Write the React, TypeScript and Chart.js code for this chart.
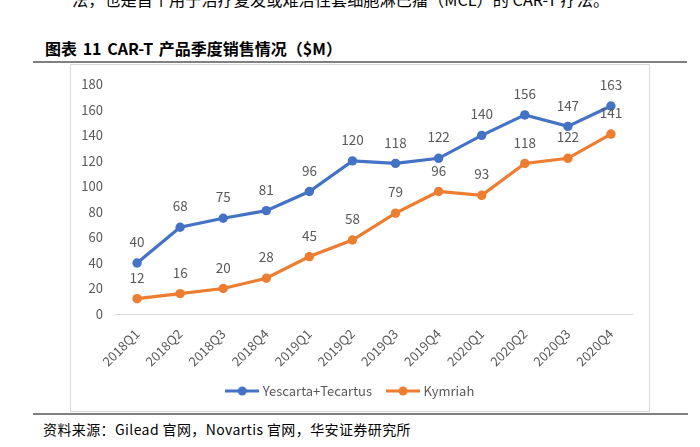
import React, { useEffect, useRef } from "react";
import { Chart, registerables } from "chart.js";

Chart.register(...registerables);

const categories = [
  "2018Q1", "2018Q2", "2018Q3", "2018Q4",
  "2019Q1", "2019Q2", "2019Q3", "2019Q4",
  "2020Q1", "2020Q2", "2020Q3", "2020Q4",
];
const yescartaTecartus = [40, 68, 75, 81, 96, 120, 118, 122, 140, 156, 147, 163];
const kymriah = [12, 16, 20, 28, 45, 58, 79, 96, 93, 118, 122, 141];
const seriesNames = ["Yescarta+Tecartus", "Kymriah"];
const seriesColors = ["#4472C4", "#ED7D31"];
const yMin = 0;
const yMax = 180;
const yStep = 20;

const FONT = "'Noto Sans CJK SC', 'Noto Sans', sans-serif";
const TEXT_GRAY = "#595959";

function legendImage(color: string) {
  const c = document.createElement("canvas");
  c.width = 34;
  c.height = 12;
  const ctx = c.getContext("2d")!;
  ctx.strokeStyle = color;
  ctx.lineWidth = 3;
  ctx.beginPath();
  ctx.moveTo(0, 6);
  ctx.lineTo(34, 6);
  ctx.stroke();
  ctx.fillStyle = color;
  ctx.beginPath();
  ctx.arc(17, 6, 4.5, 0, Math.PI * 2);
  ctx.fill();
  return c;
}

const dataLabelPlugin = {
  id: "dataLabels",
  afterDatasetsDraw(chart: any) {
    const ctx = chart.ctx;
    ctx.save();
    ctx.font = `13.5px ${FONT}`;
    ctx.fillStyle = TEXT_GRAY;
    ctx.textAlign = "center";
    ctx.textBaseline = "middle";
    chart.data.datasets.forEach((ds: any, i: number) => {
      const meta = chart.getDatasetMeta(i);
      meta.data.forEach((pt: any, j: number) => {
        ctx.fillText(String(ds.data[j]), pt.x, pt.y - 21);
      });
    });
    ctx.restore();
  },
};

function CarTChart() {
  const ref = useRef<HTMLCanvasElement>(null);
  useEffect(() => {
    if (!ref.current) return;
    const series = [yescartaTecartus, kymriah];
    const images = seriesColors.map((c) => legendImage(c));
    const chart = new Chart(ref.current, {
      type: "line",
      data: {
        labels: categories,
        datasets: series.map((d, i) => ({
          label: seriesNames[i],
          data: d,
          borderColor: seriesColors[i],
          backgroundColor: seriesColors[i],
          borderWidth: 3.2,
          pointRadius: 4.7,
          pointBorderWidth: 0,
          pointBackgroundColor: seriesColors[i],
          tension: 0,
          fill: false,
        })),
      },
      options: {
        responsive: false,
        animation: false,
        layout: { padding: { left: 0, right: 17.5, top: 18.7, bottom: 4.5 } },
        plugins: {
          tooltip: { enabled: false },
          legend: {
            position: "bottom",
            labels: {
              usePointStyle: true,
              pointStyleWidth: 28,
              padding: 17,
              color: TEXT_GRAY,
              font: { family: FONT, size: 13 },
              generateLabels: () =>
                seriesNames.map((n, i) => ({
                  text: n,
                  pointStyle: images[i] as any,
                  fillStyle: seriesColors[i],
                  strokeStyle: seriesColors[i],
                  lineWidth: 0,
                  hidden: false,
                  datasetIndex: i,
                  fontColor: TEXT_GRAY,
                })),
            },
          },
        },
        scales: {
          x: {
            offset: true,
            grid: { display: false },
            border: { display: true, color: "#d9d9d9", width: 1 },
            ticks: {
              autoSkip: false,
              minRotation: 45,
              maxRotation: 45,
              padding: 4,
              color: TEXT_GRAY,
              font: { family: FONT, size: 13 },
            },
            afterFit: (s: any) => {
              s.height = 53.5;
            },
          },
          y: {
            min: yMin,
            max: yMax,
            grid: { display: false, drawTicks: false },
            border: { display: false },
            ticks: {
              stepSize: yStep,
              padding: 12.5,
              color: TEXT_GRAY,
              font: { family: FONT, size: 13 },
            },
            afterFit: (s: any) => {
              s.width = 45.5;
            },
          },
        },
      },
      plugins: [dataLabelPlugin],
    });
    return () => chart.destroy();
  }, []);
  return (
    <canvas
      ref={ref}
      width={580}
      height={348}
      style={{ position: "absolute", left: 70, top: 64, width: 580, height: 348 }}
    />
  );
}

export default function App() {
  return (
    <div
      style={{
        position: "fixed",
        left: 0,
        top: 0,
        width: 700,
        height: 447,
        overflow: "hidden",
        background: "#fff",
        fontFamily: FONT,
      }}
    >
      <div
        style={{
          position: "absolute",
          left: 72,
          top: -9,
          fontSize: 16.2,
          lineHeight: "16px",
          whiteSpace: "nowrap",
          color: "#000",
        }}
      >
        法，也是首个用于治疗复发或难治性套细胞淋巴瘤（MCL）的 CAR-T 疗法。
      </div>
      <div
        style={{
          position: "absolute",
          left: 45,
          top: 39,
          fontSize: 16,
          lineHeight: "18px",
          fontWeight: "bold",
          whiteSpace: "nowrap",
          color: "#000",
          wordSpacing: 2,
        }}
      >
        图表 11 CAR-T 产品季度销售情况（$M）
      </div>
      <div style={{ position: "absolute", left: 33, top: 61, width: 654, height: 2, background: "#808080" }} />
      <div
        style={{
          position: "absolute",
          left: 70,
          top: 64,
          width: 580,
          height: 348,
          boxSizing: "border-box",
          border: "1px solid #d9d9d9",
        }}
      />
      <CarTChart />
      <div style={{ position: "absolute", left: 33, top: 413, width: 655, height: 2, background: "#808080" }} />
      <div
        style={{
          position: "absolute",
          left: 43,
          top: 421,
          fontSize: 14,
          lineHeight: "17px",
          letterSpacing: 0.4,
          whiteSpace: "nowrap",
          color: "#000",
        }}
      >
        资料来源：Gilead 官网，Novartis 官网，华安证券研究所
      </div>
    </div>
  );
}
